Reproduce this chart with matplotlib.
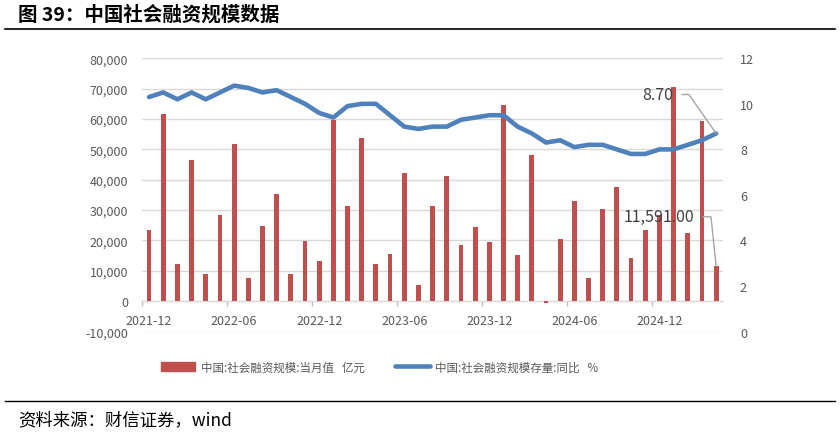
import matplotlib

matplotlib.use("Agg")
import matplotlib.pyplot as plt
import numpy as np
from matplotlib.lines import Line2D
from matplotlib.patches import Patch
from matplotlib.ticker import FuncFormatter

plt.rcParams["font.family"] = ["Noto Sans CJK SC", "DejaVu Sans"]

# monthly data, 2021-12 .. 2025-04
tsf_monthly = [23400, 61500, 12100, 46500, 9100, 28400, 51700, 7600, 24700, 35300,
               9100, 19900, 13100, 59800, 31300, 53600, 12100, 15500, 42200, 5200,
               31300, 41200, 18500, 24400, 19500, 64500, 15100, 48100, -600, 20400,
               32900, 7600, 30300, 37700, 14100, 23400, 28500, 70500, 22400, 59200,
               11591]
stock_yoy = [10.3, 10.5, 10.2, 10.5, 10.2, 10.5, 10.8, 10.7, 10.5, 10.6,
             10.3, 10.0, 9.6, 9.4, 9.9, 10.0, 10.0, 9.5, 9.0, 8.9,
             9.0, 9.0, 9.3, 9.4, 9.5, 9.5, 9.0, 8.7, 8.3, 8.4,
             8.1, 8.2, 8.2, 8.0, 7.8, 7.8, 8.0, 8.0, 8.2, 8.4,
             8.7]
tick_labels = ["2021-12", "2022-06", "2022-12", "2023-06", "2023-12", "2024-06", "2024-12"]
bar_label = "中国:社会融资规模:当月值   亿元"
line_label = "中国:社会融资规模存量:同比   %"

BAR_C = "#C0504D"
LINE_C = "#4F81BD"
TXT_C = "#595959"

fig = plt.figure(figsize=(8.4, 4.35), dpi=100)
ax = fig.add_axes([0.169, 0.2354, 0.692, 0.6283])
x = np.arange(len(tsf_monthly))

ax.bar(x, tsf_monthly, width=0.34, color=BAR_C, zorder=2)
ax.set_xlim(-0.5, len(x) - 0.5)
ax.set_ylim(-10000, 80000)
ax.set_yticks(np.arange(-10000, 80001, 10000))
ax.yaxis.set_major_formatter(FuncFormatter(lambda v, p: f"{v:,.0f}"))
ax.grid(axis="y", color="#D9D9D9", lw=1, zorder=0)
for s in ("top", "right", "left"):
    ax.spines[s].set_visible(False)
ax.spines["bottom"].set_position(("data", 0))
ax.spines["bottom"].set_color("#BFBFBF")
ax.spines["bottom"].set_zorder(1)

ax.set_xticks(np.arange(0, len(x), 6))
ax.set_xticklabels(tick_labels)
ax.set_xticks(np.arange(-0.5, len(x) - 1, 6), minor=True)
ax.tick_params(axis="x", which="major", length=0, pad=9, labelsize=9, labelcolor=TXT_C)
ax.tick_params(axis="x", which="minor", length=3.5, color="#BFBFBF", width=1)
ax.tick_params(axis="y", length=0, pad=10, labelsize=9, labelcolor=TXT_C)

ax2 = ax.twinx()
ax2.plot(x, stock_yoy, color=LINE_C, lw=3.3, solid_capstyle="round", solid_joinstyle="round")
ax2.set_ylim(0, 12)
ax2.set_yticks(np.arange(0, 13, 2))
for s in ax2.spines.values():
    s.set_visible(False)
ax2.tick_params(axis="y", length=0, pad=12, labelsize=9, labelcolor=TXT_C)

# data labels on the last point
ax2.annotate(f"{stock_yoy[-1]:.2f}", xy=(x[-1], stock_yoy[-1]), xytext=(37.0, 10.41),
             ha="right", va="center", fontsize=11.5, color="#404040", zorder=5,
             arrowprops=dict(arrowstyle="-", color="#A6A6A6", lw=1, relpos=(1, 0.5),
                             shrinkA=4, shrinkB=0,
                             connectionstyle="angle,angleA=0,angleB=125,rad=0"))
# bar label: left-axis value mapped onto the right axis (-10000..80000 -> 0..12)
ax2.annotate(f"{tsf_monthly[-1]:,.2f}", xy=(x[-1], tsf_monthly[-1] * 12 / 90000 + 12 / 9),
             xytext=(38.45, 27800 * 12 / 90000 + 12 / 9),
             ha="right", va="center", fontsize=11.5, color="#404040", zorder=5,
             arrowprops=dict(arrowstyle="-", color="#A6A6A6", lw=1, relpos=(1, 0.5),
                             shrinkA=4, shrinkB=0,
                             connectionstyle="angle,angleA=0,angleB=96,rad=0"))

handles = [Patch(color=BAR_C),
           Line2D([], [], color=LINE_C, lw=3.3, solid_capstyle="round")]
fig.legend(handles, [bar_label, line_label], loc="center", bbox_to_anchor=(0.452, 0.154),
           ncol=2, frameon=False, fontsize=8.3, labelcolor=TXT_C, handlelength=3.0,
           handleheight=0.7, columnspacing=2.6, handletextpad=0.5)

# header / footer
fig.text(0.022, 1 - 15 / 435, "图 39：中国社会融资规模数据", fontsize=14, fontweight="bold",
         va="center", ha="left")
fig.add_artist(Line2D([0.006, 0.994], [1 - 30 / 435] * 2, color="black", lw=1.2))
fig.add_artist(Line2D([0.006, 0.994], [1 - 402 / 435] * 2, color="black", lw=1.0))
fig.text(0.022, 1 - 420 / 435, "资料来源：财信证券，wind", fontsize=12.5, style="italic",
         va="center", ha="left")

fig.savefig("out.png", dpi=100)
